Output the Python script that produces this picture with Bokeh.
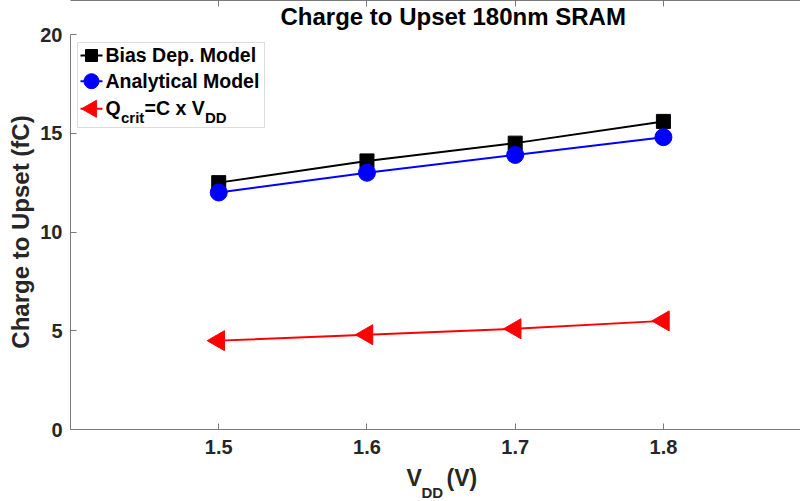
import numpy as np
from bokeh.plotting import figure
from bokeh.layouts import column
from bokeh.models import Range1d, LinearAxis, FixedTicker, Label, BoxAnnotation, Title
from bokeh.core.properties import value
from bokeh.embed import file_html
from bokeh.resources import INLINE

# Supply voltage (V) and charge to upset (fC) for the 180nm SRAM cell
vdd = [1.5, 1.6, 1.7, 1.8]
bias_dep = [12.5, 13.6, 14.5, 15.6]
analytical = [12.0, 13.0, 13.9, 14.8]
q_crit = [4.5, 4.8, 5.1, 5.5]

x_ticks = [1.5, 1.6, 1.7, 1.8]
y_ticks = [0, 5, 10, 15, 20]

FONT = "Liberation Sans"
INK = "#262626"
AXIS = "#7a7a7a"

# page geometry (pixels, measured from the top-left of the page)
W = 800
H_XLAB = 34                   # strip holding the x-axis title
H_PAGE = 500
H_MAIN = H_PAGE - H_XLAB
FRAME_L, FRAME_R = 70, 800
FRAME_T, FRAME_B = 34, 429
BASE_SHIFT = 0.36             # text anchor offset, in em, for baseline placement

X0 = 1.4
X1 = X0 + (FRAME_R - FRAME_L) / 1482.3
Y0, Y1 = 0, 20


def px_x(px):
    return X0 + (px - FRAME_L) * (X1 - X0) / (FRAME_R - FRAME_L)


def px_y(py):
    return Y1 - (py - FRAME_T) * (Y1 - Y0) / (FRAME_B - FRAME_T)


# main plot
p = figure(width=W, height=H_MAIN, title=None,
           x_range=Range1d(X0, X1), y_range=Range1d(Y0, Y1),
           output_backend="svg", toolbar_location=None,
           min_border_left=FRAME_L, min_border_top=FRAME_T,
           min_border_right=W - FRAME_R,
           min_border_bottom=H_MAIN - FRAME_B)
p.add_layout(Title(text="Charge to Upset 180nm SRAM", align="left",
                   offset=210, text_font=FONT, text_font_style="bold",
                   text_font_size="24px", text_color="black",
                   standoff=0, vertical_align="bottom",
                   padding=(0, 0, 0, 5)), "above")
p.outline_line_color = None
p.grid.visible = False
p.background_fill_color = "white"
p.border_fill_color = "white"


def style_axis(ax, ticks, standoff, show_labels=True):
    ax.ticker = FixedTicker(ticks=ticks)
    ax.major_tick_in = 6
    ax.major_tick_out = 0
    ax.minor_tick_in = 0
    ax.minor_tick_out = 0
    ax.axis_line_color = AXIS
    ax.axis_line_width = 1
    ax.major_tick_line_color = AXIS
    ax.major_label_standoff = standoff
    ax.major_label_text_font = FONT
    ax.major_label_text_font_style = "bold"
    ax.major_label_text_font_size = "20px" if show_labels else "0px"
    ax.major_label_text_color = INK if show_labels else None


style_axis(p.xaxis[0], x_ticks, 10)
style_axis(p.yaxis[0], y_ticks, 8)
p.yaxis[0].axis_label = "Charge to Upset (fC)"
p.yaxis[0].axis_label_text_font = FONT
p.yaxis[0].axis_label_text_font_style = "bold"
p.yaxis[0].axis_label_text_font_size = "24px"
p.yaxis[0].axis_label_text_color = INK
p.yaxis[0].axis_label_standoff = 3

# top border with inward ticks
top_axis = LinearAxis()
style_axis(top_axis, x_ticks, 0, show_labels=False)
p.add_layout(top_axis, "above")

# series
p.line(vdd, q_crit, color="#ff0000", line_width=2)
p.scatter(vdd, q_crit, marker="triangle", angle=np.pi / 2, size=20,
          color="#ff0000")
p.line(vdd, bias_dep, color="black", line_width=2)
p.scatter(vdd, bias_dep, marker="square", size=14, color="black")
p.line(vdd, analytical, color="#0000ff", line_width=2)
p.scatter(vdd, analytical, marker="circle", size=17, color="#0000ff")


def label(text, px, py, size):
    p.add_layout(Label(x=px_x(px), y=px_y(py - BASE_SHIFT * size),
                       text=text, text_font=FONT, text_font_style="bold",
                       text_font_size=f"{size}px", text_color="black",
                       text_align="left", text_baseline="alphabetic"))


# legend
p.add_layout(BoxAnnotation(left=px_x(77), right=px_x(264),
                           top=px_y(42), bottom=px_y(127),
                           fill_color="white", fill_alpha=1.0,
                           line_color="#8c8c8c", line_width=1,
                           level="underlay"))

rows = [55, 80.7, 108.3]
styles = [("black", "square", 12, 0.0),
          ("#0000ff", "circle", 15, 0.0),
          ("#ff0000", "triangle", 17, np.pi / 2)]
for ry, (col, mk, sz, ang) in zip(rows, styles):
    p.line([px_x(80), px_x(102)], [px_y(ry), px_y(ry)], color=col,
           line_width=2)
    p.scatter([px_x(91)], [px_y(ry)], marker=mk, size=sz, angle=ang,
              color=col)

label("Bias Dep. Model", 105, 62, 19.5)
label("Analytical Model", 105, 87.5, 19.5)
label("Q", 105, 114.5, 19.5)
label("crit", 120.5, 122, 15)
label("=C x V", 144, 114.5, 19.5)
label("DD", 204.5, 122, 15)

# x-axis title with subscript, in a strip whose data coordinates are page pixels
xl = figure(width=W, height=H_XLAB, title=None,
            x_range=Range1d(FRAME_L, FRAME_R),
            y_range=Range1d(H_PAGE, H_PAGE - H_XLAB),
            output_backend="svg", toolbar_location=None,
            x_axis_type=None, y_axis_type=None,
            min_border_left=0, min_border_right=0,
            min_border_top=0, min_border_bottom=0)
xl.outline_line_color = None
xl.grid.visible = False
xl.border_fill_color = "white"
xl.background_fill_color = "white"

xlab_parts = ["V", "DD", "(V)"]
xlab_x = [406, 421, 446]
xlab_base = [486, 497, 486]
xlab_size = [23, 15, 23]
for t, tx, ty, fs in zip(xlab_parts, xlab_x, xlab_base, xlab_size):
    xl.text(x=[tx], y=[ty - BASE_SHIFT * fs], text=[t],
            text_font=value(FONT), text_font_style="bold",
            text_font_size=f"{fs}px", text_color=INK,
            text_align="left", text_baseline="alphabetic")

layout = column(p, xl, spacing=0)
open("out.html", "w").write(file_html(layout, INLINE))
